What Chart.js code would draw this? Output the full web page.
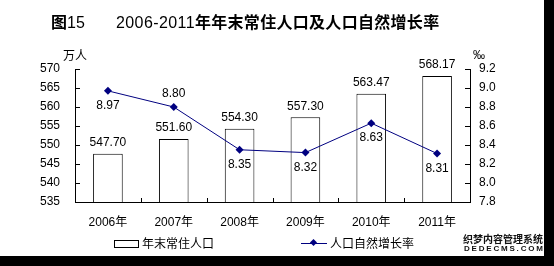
<!DOCTYPE html>
<html><head><meta charset="utf-8">
<script src="https://cdn.jsdelivr.net/npm/chart.js@4/dist/chart.umd.min.js"></script>
<style>
html,body{margin:0;padding:0;background:#000;width:554px;height:266px;overflow:hidden;}
#wrap{position:absolute;left:0;top:0;width:544px;height:256px;background:#fff;font-family:'Liberation Sans','Noto Sans CJK SC',sans-serif;color:#000;}
canvas{position:absolute;left:0;top:0;}
.t{position:absolute;white-space:nowrap;line-height:1;}
</style></head><body>
<div id="wrap">
<canvas id="c" width="544" height="256"></canvas>
<div class="t" style="left:51px;top:13px;font-size:16px;"><b style="font-family:'Noto Sans CJK SC';">图</b><span>15</span></div>
<div class="t" style="left:116px;top:13px;font-size:16px;letter-spacing:0.4px;">2006-2011<b style="font-family:'Noto Sans CJK SC';letter-spacing:0.3px;">年年末常住人口及人口自然增长率</b></div>
<div class="t" style="left:63px;top:49px;font-size:12px;font-family:'Noto Sans CJK SC';">万人</div>
<div class="t" style="left:473px;top:49px;font-size:12px;">‰</div>
<div style="position:absolute;left:114px;top:240px;width:23px;height:6px;border:1px solid #000;"></div>
<div class="t" style="left:142px;top:237px;font-size:12px;font-family:'Noto Sans CJK SC';">年末常住人口</div>
<div style="position:absolute;left:301px;top:243px;width:26px;height:1px;background:#000080;"></div>
<div style="position:absolute;left:311px;top:240px;width:5px;height:5px;background:#000080;transform:rotate(45deg);"></div>
<div class="t" style="left:330px;top:237px;font-size:12px;font-family:'Noto Sans CJK SC';">人口自然增长率</div>
<div class="t" style="left:463px;top:234px;font-size:10px;font-weight:bold;font-family:'Noto Sans CJK SC';color:#111;">织梦内容管理系统</div>
<div class="t" style="left:464px;top:245px;font-size:8px;font-weight:bold;letter-spacing:1.8px;color:#111;">DEDECMS.COM</div>
</div>
<script>
const categories = ['2006年','2007年','2008年','2009年','2010年','2011年'];
const population = [547.70, 551.60, 554.30, 557.30, 563.47, 568.17];
const growthRate = [8.97, 8.80, 8.35, 8.32, 8.63, 8.31];
const leftTicks = [535, 540, 545, 550, 555, 560, 565, 570];
const rightTicks = [7.8, 8.0, 8.2, 8.4, 8.6, 8.8, 9.0, 9.2];
const rateLabelSide = ['below','above','below','below','below','below'];

const FONT = "'Liberation Sans','Noto Sans CJK SC',sans-serif";
Chart.defaults.font.family = FONT;
Chart.defaults.font.size = 12;
Chart.defaults.color = '#000';

const decor = {
  id:'decor',
  afterDatasetsDraw(chart){
    const ctx = chart.ctx;
    const x = chart.scales.x, y = chart.scales.y, y1 = chart.scales.y1;
    ctx.save();
    ctx.strokeStyle = '#000'; ctx.lineWidth = 1;
    ctx.beginPath();
    leftTicks.forEach(v=>{const p=Math.round(y.getPixelForValue(v))+0.5; ctx.moveTo(x.left,p); ctx.lineTo(x.left+5,p);});
    rightTicks.forEach(v=>{const p=Math.round(y1.getPixelForValue(v))+0.5; ctx.moveTo(x.right,p); ctx.lineTo(x.right-5,p);});
    const step = (x.right - x.left)/categories.length;
    for(let i=1;i<categories.length;i++){
      const p = Math.round(x.getPixelForValue(i) - step/2)+0.5;
      ctx.moveTo(p, y.bottom); ctx.lineTo(p, y.bottom-4);
    }
    ctx.stroke();
    ctx.fillStyle = '#000';
    ctx.font = '12px ' + FONT;
    ctx.textAlign = 'center'; ctx.textBaseline = 'middle';
    chart.getDatasetMeta(0).data.forEach((b,i)=>{
      ctx.fillText(population[i].toFixed(2), b.x, b.y - 11);
    });
    chart.getDatasetMeta(1).data.forEach((pt,i)=>{
      const off = rateLabelSide[i]==='above' ? -13 : 15;
      ctx.fillText(growthRate[i].toFixed(2), pt.x, pt.y + off);
    });
    ctx.restore();
  }
};

new Chart(document.getElementById('c'), {
  data:{
    labels: categories,
    datasets:[
      {type:'bar', data: population, yAxisID:'y', backgroundColor:'#fff', borderColor:'#000', borderWidth:1,
       categoryPercentage:1, barPercentage:0.45, order:2},
      {type:'line', data: growthRate, yAxisID:'y1', borderColor:'#000080', backgroundColor:'#000080', borderWidth:1,
       pointStyle:'rectRot', pointRadius:4, pointBorderWidth:0, tension:0, order:1}
    ]
  },
  options:{
    responsive:false, animation:false,
    layout:{padding:{top:69, left:0, right:0, bottom:0}},
    plugins:{legend:{display:false}, tooltip:{enabled:false}},
    scales:{
      x:{grid:{display:false, drawTicks:false}, border:{display:true,color:'#000',width:1},
         ticks:{padding:13, color:'#000', maxRotation:0, font:{size:12}},
         afterFit(s){s.height = 54;}},
      y:{position:'left', min:535, max:570, grid:{display:false, drawTicks:false},
         border:{display:true,color:'#000',width:1},
         ticks:{stepSize:5, padding:15, color:'#000'},
         afterFit(s){s.width = 75;}},
      y1:{position:'right', min:7.8, max:9.2, grid:{display:false, drawTicks:false},
         border:{display:true,color:'#000',width:1},
         ticks:{stepSize:0.2, padding:9, color:'#000', callback:v=>v.toFixed(1)},
         afterFit(s){s.width = 74;}}
    }
  },
  plugins:[decor]
});
</script>
</body></html>
